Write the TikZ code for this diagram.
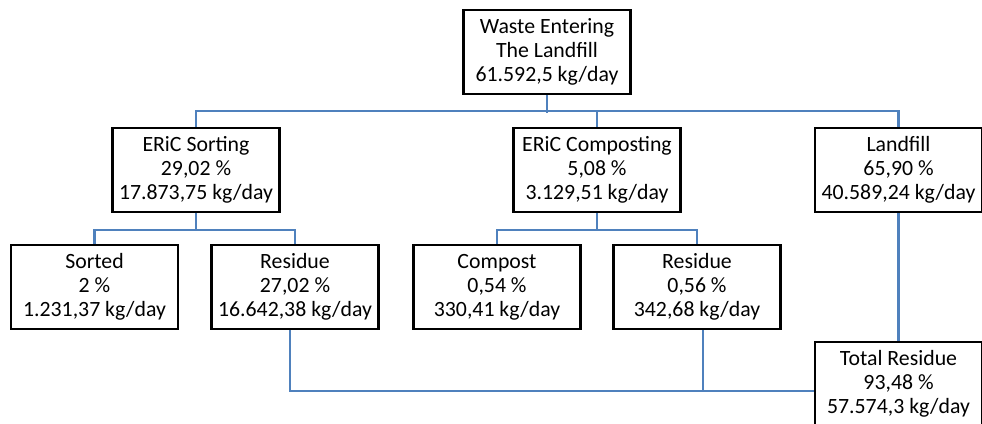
\documentclass[tikz,border=0pt]{standalone}
\usepackage{fontspec}
\setmainfont{Carlito}
\usepackage{tikz}
\definecolor{linkblue}{HTML}{4F81BD}

\begin{document}
\begin{tikzpicture}[
        box/.style={draw=black, line width=1.5pt, fill=white, align=center,
            minimum width=3.34cm, minimum height=1.68cm, inner sep=0pt,
            font=\fontsize{12.4}{13.7}\selectfont},
        link/.style={draw=linkblue, line width=1.3pt}]
        \useasboundingbox (0,0) rectangle (19.64,-8.46);
        % Boxes
        \node[box] (top) at (10.94,-1.04) {Waste Entering\\The Landfill\\61.592,5 kg/day};
        \node[box] (sorting) at (3.92,-3.40) {ERiC Sorting\\29,02 \%\\17.873,75 kg/day};
        \node[box] (composting) at (11.94,-3.40) {ERiC Composting\\5,08 \%\\3.129,51 kg/day};
        \node[box] (landfill) at (17.97,-3.40) {Landfill\\65,90 \%\\40.589,24 kg/day};
        \node[box] (sorted) at (1.89,-5.74) {Sorted\\2 \%\\1.231,37 kg/day};
        \node[box] (residueA) at (5.90,-5.74) {Residue\\27,02 \%\\16.642,38 kg/day};
        \node[box] (compost) at (9.94,-5.74) {Compost\\0,54 \%\\330,41 kg/day};
        \node[box] (residueB) at (13.94,-5.74) {Residue\\0,56 \%\\342,68 kg/day};
        \node[box] (total) at (17.97,-7.68) {Total Residue\\93,48 \%\\57.574,3 kg/day};
        % Lines
        \draw[link] (top.south) -- ++(0,-0.36);
        \draw[link] (sorting.north) -- ++(0,0.32) -| (landfill.north);
        \draw[link] (composting.north) -- ++(0,0.32);
        \draw[link] (sorting.south) -- ++(0,-0.34) -| (sorted.north);
        \draw[link] (sorting.south) -- ++(0,-0.34) -| (residueA.north);
        \draw[link] (composting.south) -- ++(0,-0.34) -| (compost.north);
        \draw[link] (composting.south) -- ++(0,-0.34) -| (residueB.north);
        \coordinate (join) at ([yshift=-0.14cm]total.west);
        \draw[link] ([xshift=-0.1cm]residueA.south) |- (join);
        \draw[link] ([xshift=0.12cm]residueB.south) -- ([xshift=0.12cm]residueB.south |- join);
        \draw[link] (landfill.south) -- (total.north);
    \end{tikzpicture}
\end{document}
